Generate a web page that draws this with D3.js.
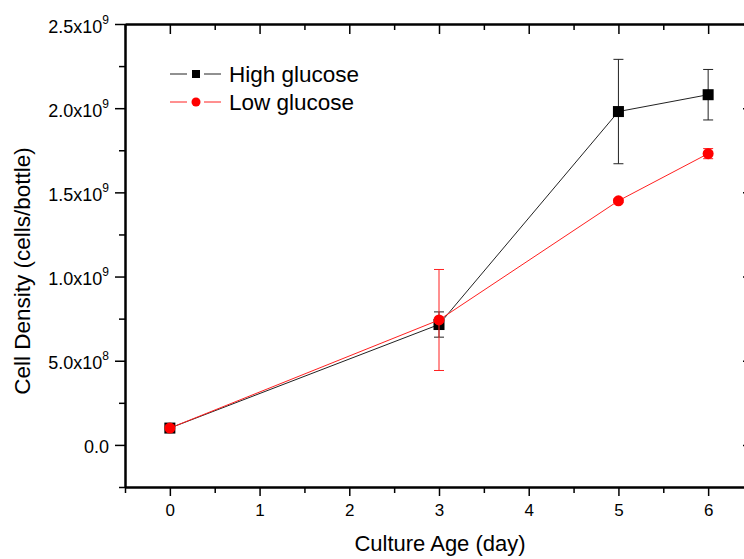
<!DOCTYPE html>
<html>
<head>
<meta charset="utf-8">
<script src="https://cdn.jsdelivr.net/npm/d3@7"></script>
<style>
  html, body { margin: 0; padding: 0; background: #fff; }
  svg { display: block; font-family: "Liberation Sans", Arial, sans-serif; }
</style>
</head>
<body>
<svg id="chart" width="744" height="559"></svg>
<script>
// ---- data ----
const days = [0, 3, 5, 6];
const highGlucose = [1.0e8, 7.15e8, 1.98e9, 2.08e9];
const highGlucoseErr = [0, 0.75e8, 0.31e9, 0.15e9];
const lowGlucose = [1.0e8, 7.42e8, 1.45e9, 1.73e9];
const lowGlucoseErr = [0, 0.30e9, 0.01e9, 0.03e9];
const seriesNames = ["High glucose", "Low glucose"];
const xTicks = [0, 1, 2, 3, 4, 5, 6];
const yTicks = [0, 5e8, 1e9, 1.5e9, 2e9, 2.5e9];
const yTickLabels = [["0.0", ""], ["5.0x10", "8"], ["1.0x10", "9"], ["1.5x10", "9"], ["2.0x10", "9"], ["2.5x10", "9"]];
const xTitle = "Culture Age (day)";
const yTitle = "Cell Density (cells/bottle)";

// ---- layout ----
const svg = d3.select("#chart");
const plot = { left: 125, right: 753, top: 24, bottom: 487 };
const x = d3.scaleLinear().domain([-0.5, 6.5]).range([plot.left, plot.right]);
const y = d3.scaleLinear().domain([-2.5e8, 2.5e9]).range([plot.bottom, plot.top]);

const xMinor = d3.range(-0.5, 6.51, 0.5).filter(v => !xTicks.includes(v));
const yMinor = d3.range(-2.5e8, 2.5e9 + 1, 2.5e8).filter(v => !yTicks.some(t => Math.abs(t - v) < 1));

function styleAxis(g) {
  g.select(".domain").attr("stroke", "#000").attr("stroke-width", 2);
  g.selectAll(".tick line").attr("stroke", "#000").attr("stroke-width", 1.5);
}

// minor ticks
svg.append("g").attr("transform", `translate(0,${plot.bottom})`)
  .call(d3.axisBottom(x).tickValues(xMinor).tickSize(6).tickSizeOuter(0).tickFormat(""))
  .call(styleAxis);
svg.append("g").attr("transform", `translate(0,${plot.top})`)
  .call(d3.axisBottom(x).tickValues(xMinor).tickSize(6).tickSizeOuter(0).tickFormat(""))
  .call(styleAxis);
svg.append("g").attr("transform", `translate(${plot.left},0)`)
  .call(d3.axisLeft(y).tickValues(yMinor).tickSize(6).tickSizeOuter(0).tickFormat(""))
  .call(styleAxis);
svg.append("g").attr("transform", `translate(${plot.right},0)`)
  .call(d3.axisLeft(y).tickValues(yMinor).tickSize(6).tickSizeOuter(0).tickFormat(""))
  .call(styleAxis);

// major ticks: bottom (outward, labelled)
const gx = svg.append("g").attr("transform", `translate(0,${plot.bottom})`)
  .call(d3.axisBottom(x).tickValues(xTicks).tickSize(9).tickSizeOuter(0).tickPadding(8).tickFormat(d3.format("d")))
  .call(styleAxis);
gx.selectAll(".tick text").attr("font-size", 17).attr("fill", "#000")
  .attr("font-family", "Liberation Sans, Arial, sans-serif");

// top (inward)
svg.append("g").attr("transform", `translate(0,${plot.top})`)
  .call(d3.axisBottom(x).tickValues(xTicks).tickSize(10).tickSizeOuter(0).tickFormat(""))
  .call(styleAxis);

// left (outward, labelled)
const gy = svg.append("g").attr("transform", `translate(${plot.left},0)`)
  .call(d3.axisLeft(y).tickValues(yTicks).tickSize(10).tickSizeOuter(0).tickFormat(""))
  .call(styleAxis);
gy.selectAll(".tick").each(function(d, i) {
  const t = d3.select(this).append("text")
    .attr("x", -16).attr("y", 8)
    .attr("text-anchor", "end")
    .attr("fill", "#000")
    .attr("font-size", 18)
    .attr("font-family", "Liberation Sans, Arial, sans-serif");
  t.append("tspan").text(yTickLabels[i][0]);
  if (yTickLabels[i][1]) {
    t.append("tspan").attr("font-size", 12).attr("dy", -9).text(yTickLabels[i][1]);
  }
});

// right (inward)
svg.append("g").attr("transform", `translate(${plot.right},0)`)
  .call(d3.axisLeft(y).tickValues(yTicks).tickSize(10).tickSizeOuter(0).tickFormat(""))
  .call(styleAxis);

// titles
svg.append("text")
  .attr("x", (plot.left + plot.right) / 2 + 1).attr("y", 551)
  .attr("text-anchor", "middle").attr("font-size", 22).attr("fill", "#000")
  .text(xTitle);
svg.append("text")
  .attr("transform", `translate(30,271) rotate(-90)`)
  .attr("text-anchor", "middle").attr("font-size", 22.5).attr("fill", "#000")
  .text(yTitle);

// ---- series ----
const series = [
  { name: seriesNames[0], values: highGlucose, err: highGlucoseErr, color: "#000", lineColor: "#222", shape: "square" },
  { name: seriesNames[1], values: lowGlucose, err: lowGlucoseErr, color: "#ff0000", lineColor: "#ff2020", shape: "circle" }
];

const line = d3.line().x(d => x(d[0])).y(d => y(d[1]));

series.forEach(s => {
  const pts = days.map((d, i) => [d, s.values[i], s.err[i]]);
  const g = svg.append("g");
  g.append("path").datum(pts).attr("d", line)
    .attr("fill", "none").attr("stroke", s.lineColor).attr("stroke-width", 1);
  // error bars
  const eb = g.selectAll(".eb").data(pts.filter(p => p[2] > 0)).join("g");
  eb.append("line")
    .attr("x1", p => x(p[0])).attr("x2", p => x(p[0]))
    .attr("y1", p => y(p[1] + p[2])).attr("y2", p => y(p[1] - p[2]))
    .attr("stroke", s.lineColor).attr("stroke-width", 1);
  [1, -1].forEach(sign => {
    eb.append("line")
      .attr("x1", p => x(p[0]) - 5).attr("x2", p => x(p[0]) + 5)
      .attr("y1", p => y(p[1] + sign * p[2])).attr("y2", p => y(p[1] + sign * p[2]))
      .attr("stroke", s.lineColor).attr("stroke-width", 1);
  });
  // markers
  if (s.shape === "square") {
    g.selectAll(".m").data(pts).join("rect")
      .attr("x", p => x(p[0]) - 5.5).attr("y", p => y(p[1]) - 5.5)
      .attr("width", 11).attr("height", 11).attr("fill", s.color);
  } else {
    g.selectAll(".m").data(pts).join("circle")
      .attr("cx", p => x(p[0])).attr("cy", p => y(p[1])).attr("r", 5.5)
      .attr("fill", s.color);
  }
});

// ---- legend ----
const legend = svg.append("g");
series.forEach((s, i) => {
  const cy = 74 + i * 28;
  const lg = legend.append("g");
  lg.append("line").attr("x1", 170).attr("x2", 187).attr("y1", cy).attr("y2", cy)
    .attr("stroke", s.lineColor).attr("stroke-width", 1);
  lg.append("line").attr("x1", 204).attr("x2", 221).attr("y1", cy).attr("y2", cy)
    .attr("stroke", s.lineColor).attr("stroke-width", 1);
  if (s.shape === "square") {
    lg.append("rect").attr("x", 192).attr("y", cy - 4).attr("width", 8).attr("height", 8).attr("fill", s.color);
  } else {
    lg.append("circle").attr("cx", 196).attr("cy", cy).attr("r", 4.5).attr("fill", s.color);
  }
  lg.append("text").attr("x", 229).attr("y", cy + 8)
    .attr("font-size", 22.5).attr("fill", "#000").text(s.name);
});
</script>
</body>
</html>
